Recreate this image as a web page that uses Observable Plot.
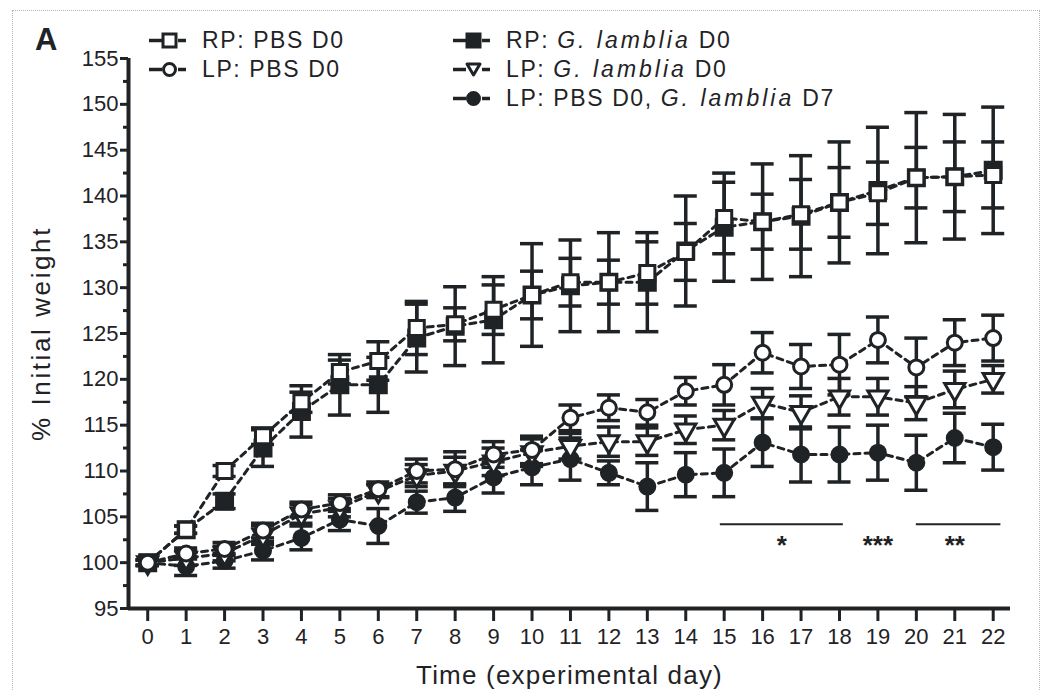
<!DOCTYPE html>
<html>
<head>
<meta charset="utf-8">
<script src="https://cdn.jsdelivr.net/npm/d3@7"></script>
<script src="https://cdn.jsdelivr.net/npm/@observablehq/plot@0.6"></script>
<style>
  html, body { margin: 0; padding: 0; background: #fff; }
  #wrap { position: relative; width: 1046px; height: 691px; overflow: hidden; font-family: "Liberation Sans", Arial, sans-serif; color: #1f2326; }
  #border { position: absolute; left: 12px; top: 10px; width: 1028px; height: 700px; border: 1px dotted #b5b5b5; box-sizing: border-box; }
  #panel { position: absolute; left: 35px; top: 22px; font-weight: bold; font-size: 31px; }
  .leg { position: absolute; display: flex; align-items: center; font-size: 23px; letter-spacing: 1.6px; white-space: nowrap; }
  .leg i { letter-spacing: 3px; }
  .leg svg { margin-right: 12px; }
  #chart { position: absolute; left: 0; top: 0; }
</style>
</head>
<body>
<div id="wrap">
  <div id="border"></div>
  <div id="chart"></div>
  <div id="panel">A</div>
  <div id="legend"></div>
</div>
<script>
// ---- data ----
const days = [0,1,2,3,4,5,6,7,8,9,10,11,12,13,14,15,16,17,18,19,20,21,22];

const rpPbs    = [100,103.6,110.0,113.8,117.5,120.8,122.0,125.6,126.0,127.6,129.2,130.6,130.6,131.6,133.9,137.6,137.2,138.0,139.3,140.3,142.0,142.1,142.3];
const rpPbsErr = [0.3,0.4,0.6,0.9,1.1,1.3,2.1,2.9,1.8,2.7,2.6,2.6,2.4,3.4,3.1,3.9,3.0,3.8,3.8,3.4,3.3,3.8,3.6];

const rpGl     = [100,103.6,106.7,112.5,116.5,119.4,119.4,124.5,125.8,126.5,129.2,130.2,130.6,130.6,134.0,136.6,137.2,137.8,139.3,140.6,142.0,142.1,142.8];
const rpGlErr  = [0.3,0.4,0.8,2.0,2.8,3.3,3.0,3.7,4.3,4.7,5.6,5.0,5.4,5.4,6.0,5.9,6.3,6.6,6.6,6.9,7.1,6.8,6.9];

const lpPbs    = [100,101.0,101.5,103.5,105.8,106.5,108.0,110.0,110.2,111.8,112.3,115.8,116.9,116.4,118.7,119.4,122.9,121.4,121.6,124.3,121.3,124.0,124.5];
const lpPbsErr = [0.3,0.6,0.7,0.8,0.8,0.9,0.8,1.3,1.9,1.4,1.5,1.4,1.4,1.4,1.5,2.2,2.2,2.4,3.3,2.5,3.2,2.5,2.5];

const lpGl     = [100,100.5,101.0,103.0,105.3,106.0,107.8,109.5,110.0,111.0,112.0,112.7,113.2,113.2,114.5,115.0,117.4,116.4,118.1,118.1,117.4,118.9,120.0];
const lpGlErr  = [0.3,0.8,0.8,1.0,1.0,1.0,0.7,1.2,1.5,1.5,1.5,1.4,1.6,1.5,1.5,1.6,1.6,1.8,2.0,2.0,1.8,2.0,1.5];

const lpD7     = [100,99.6,100.2,101.3,102.7,104.7,104.0,106.6,107.1,109.3,110.4,111.3,109.8,108.3,109.6,109.8,113.1,111.8,111.8,112.0,110.9,113.6,112.6];
const lpD7Err  = [0.3,1.0,0.8,1.0,1.3,1.2,1.9,1.2,1.5,1.7,1.9,2.3,1.3,2.6,2.4,2.6,2.6,3.0,3.0,3.0,3.0,2.7,2.5];

const seriesNames = ["RP: G. lamblia D0","RP: PBS D0","LP: PBS D0, G. lamblia D7","LP: G. lamblia D0","LP: PBS D0"];

const yTicks = [95,100,105,110,115,120,125,130,135,140,145,150,155];
const yMinor = [97.5,102.5,107.5,112.5,117.5,122.5,127.5,132.5,137.5,142.5,147.5,152.5];

const sigLines  = [{from: 14.9, to: 18.1, y: 104.2}, {from: 20.0, to: 22.2, y: 104.2}];
const sigLabels = [{day: 16.5, text: "*", y: 102.6}, {day: 19.0, text: "***", y: 102.6}, {day: 21.0, text: "**", y: 102.6}];

// ---- styling per series ----
const ink = "#1f2326";
const styles = {
  "RP: G. lamblia D0":          {symbol: "square", fill: ink,    r: 9,   rotate: 0},
  "RP: PBS D0":                 {symbol: "square", fill: "#fff", r: 8.5, rotate: 0},
  "LP: PBS D0, G. lamblia D7":  {symbol: "circle", fill: ink,    r: 7.5, rotate: 0},
  "LP: G. lamblia D0":          {symbol: "triangle", fill: "#fff", r: 7.5, rotate: 180},
  "LP: PBS D0":                 {symbol: "circle", fill: "#fff", r: 7.5, rotate: 0}
};

const valuesBySeries = {
  "RP: G. lamblia D0": [rpGl, rpGlErr],
  "RP: PBS D0": [rpPbs, rpPbsErr],
  "LP: PBS D0, G. lamblia D7": [lpD7, lpD7Err],
  "LP: G. lamblia D0": [lpGl, lpGlErr],
  "LP: PBS D0": [lpPbs, lpPbsErr]
};

const capHalf = 0.3;
const marks = [];

// axes
marks.push(Plot.ruleY([95], {stroke: ink, strokeWidth: 4}));
marks.push(Plot.ruleX([-0.5], {stroke: ink, strokeWidth: 4}));
marks.push(Plot.axisX(days, {tickSize: 13, tickPadding: 7, strokeWidth: 3, fontSize: 22, label: "Time (experimental day)", labelAnchor: "center", labelOffset: 75, labelArrow: "none"}));
marks.push(Plot.axisY(yTicks, {tickSize: 8, tickPadding: 2, strokeWidth: 3, fontSize: 22, label: "% Initial weight", labelAnchor: "center", labelOffset: 97, labelArrow: "none"}));
marks.push(Plot.axisY(yMinor, {tickSize: 5, strokeWidth: 3, tickFormat: () => "", label: null}));

// series
for (const name of seriesNames) {
  const [vals, errs] = valuesBySeries[name];
  const rows = days.map((d, i) => ({day: d, v: vals[i], e: errs[i]}));
  marks.push(Plot.line(rows, {x: "day", y: "v", stroke: ink, strokeWidth: 3, strokeDasharray: "6,5"}));
  marks.push(Plot.ruleX(rows, {x: "day", y1: d => d.v - d.e, y2: d => d.v + d.e, stroke: ink, strokeWidth: 3.5}));
  marks.push(Plot.ruleY(rows, {y: d => d.v + d.e, x1: d => d.day - capHalf, x2: d => d.day + capHalf, stroke: ink, strokeWidth: 3.5}));
  marks.push(Plot.ruleY(rows, {y: d => d.v - d.e, x1: d => d.day - capHalf, x2: d => d.day + capHalf, stroke: ink, strokeWidth: 3.5}));
}
for (const name of seriesNames) {
  const [vals] = valuesBySeries[name];
  const rows = days.map((d, i) => ({day: d, v: vals[i]}));
  const s = styles[name];
  marks.push(Plot.dot(rows, {x: "day", y: "v", symbol: s.symbol, r: s.r, fill: s.fill, stroke: ink, strokeWidth: 3, rotate: s.rotate}));
}

// significance
marks.push(Plot.ruleY(sigLines, {y: "y", x1: "from", x2: "to", stroke: ink, strokeWidth: 2}));
marks.push(Plot.text(sigLabels, {x: "day", y: "y", text: "text", fontSize: 26, fontWeight: "bold", fill: ink, dy: 7}));

const chart = Plot.plot({
  width: 1046,
  height: 691,
  marginLeft: 128,
  marginRight: 36,
  marginTop: 58,
  marginBottom: 83,
  style: {fontFamily: '"Liberation Sans", Arial, sans-serif', fontSize: "22px", color: ink, background: "transparent", overflow: "visible"},
  x: {domain: [-0.5, 22.45]},
  y: {domain: [95, 155]},
  marks
});
document.getElementById("chart").appendChild(chart);
// axis titles: larger, slightly spaced
d3.select(chart).selectAll("text").filter(function() {
  return this.textContent === "Time (experimental day)";
}).style("font-size", "26px").style("letter-spacing", "1.2px");
d3.select(chart).selectAll("text").filter(function() {
  return this.textContent === "% Initial weight";
}).style("font-size", "26px").style("letter-spacing", "2.6px");

// ---- legend (HTML overlay) ----
function sym(name) {
  const s = styles[name];
  const fill = s.fill;
  let shape;
  if (s.symbol === "square") shape = `<rect x="15" y="4" width="13" height="13" fill="${fill}" stroke="${ink}" stroke-width="3"/>`;
  else if (s.symbol === "circle") shape = `<circle cx="21.5" cy="10.5" r="6" fill="${fill}" stroke="${ink}" stroke-width="3"/>`;
  else shape = `<path d="M15,5 L28,5 L21.5,16 Z" fill="${fill}" stroke="${ink}" stroke-width="3" stroke-linejoin="round"/>`;
  return `<svg width="42" height="21"><line x1="1" y1="10.5" x2="14" y2="10.5" stroke="${ink}" stroke-width="3.5"/><line x1="30" y1="10.5" x2="38" y2="10.5" stroke="${ink}" stroke-width="3.5"/>${shape}</svg>`;
}
function label(name) {
  return name.replace(/G\. lamblia/g, "<i>G. lamblia</i>");
}
const legendPos = [
  {name: "RP: PBS D0", left: 148, top: 27},
  {name: "LP: PBS D0", left: 148, top: 56},
  {name: "RP: G. lamblia D0", left: 452, top: 27},
  {name: "LP: G. lamblia D0", left: 452, top: 56},
  {name: "LP: PBS D0, G. lamblia D7", left: 452, top: 85}
];
const legend = document.getElementById("legend");
for (const p of legendPos) {
  const div = document.createElement("div");
  div.className = "leg";
  div.style.left = p.left + "px";
  div.style.top = p.top + "px";
  div.innerHTML = sym(p.name) + `<span>${label(p.name)}</span>`;
  legend.appendChild(div);
}
</script>
</body>
</html>
